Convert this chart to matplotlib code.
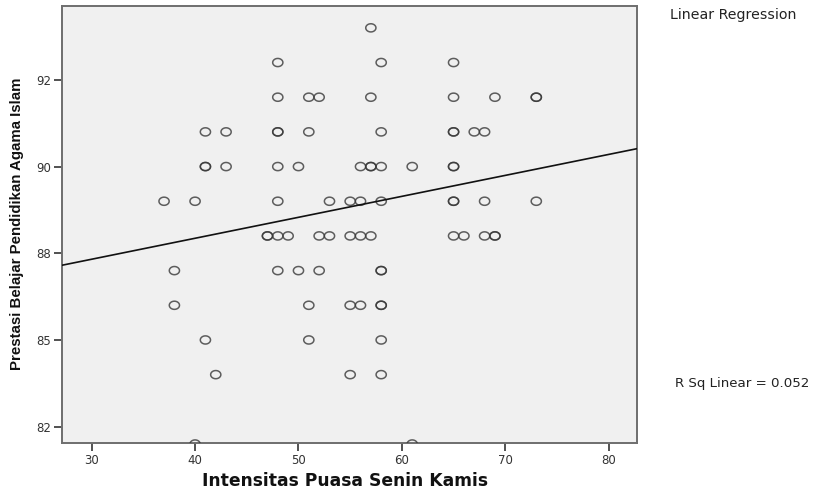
import numpy as np
import matplotlib
matplotlib.use("Agg")
import matplotlib.pyplot as plt
from matplotlib.path import Path

# ---- data ----
x_vals = [57,
          48, 58, 65,
          48, 51, 52, 57, 65, 69, 73, 73,
          41, 43, 48, 48, 51, 58, 65, 65, 67, 68,
          41, 41, 43, 48, 50, 56, 57, 57, 58, 61, 65, 65,
          37, 40, 48, 53, 55, 56, 58, 65, 65, 68, 73,
          47, 47, 48, 49, 52, 53, 55, 56, 57, 65, 66, 68, 69, 69,
          38, 48, 50, 52, 58, 58,
          38, 51, 55, 56, 58, 58,
          41, 51, 58,
          42, 55, 58,
          40, 61]
y_vals = ([94] * 1 + [93] * 3 + [92] * 8 + [91] * 10 + [90] * 12 + [89] * 11 +
          [88] * 14 + [87] * 6 + [86] * 6 + [85] * 3 + [84] * 3 + [82] * 2)

xtick_values = [30, 40, 50, 60, 70, 80]
xtick_labels = ["30", "40", "50", "60", "70", "80"]
ytick_values = [82.5, 85, 87.5, 90, 92.5]
ytick_labels = ["82", "85", "88", "90", "92"]

x_label = "Intensitas Puasa Senin Kamis"
y_label = "Prestasi Belajar Pendidikan Agama Islam"
legend_title = "Linear Regression"
r2_text = "R Sq Linear = 0.052"

x = np.array(x_vals, dtype=float)
y = np.array(y_vals, dtype=float)

# slightly flattened open-circle marker, as drawn by SPSS
t = np.linspace(0, 2 * np.pi, 41)
ellipse = Path(np.column_stack([np.cos(t), 0.8 * np.sin(t)]), closed=True)

fig = plt.figure(figsize=(8.22, 4.92), dpi=100)
ax = fig.add_axes([62 / 822, 1 - 443.3 / 492, (637 - 62) / 822, (443.3 - 6) / 492])
ax.set_facecolor("#F0F0F0")

xlim = (27.13, 82.74)
ylim = (82.02, 94.63)
ax.set_xlim(*xlim)
ax.set_ylim(*ylim)

ax.scatter(x, y, s=54, marker=ellipse, facecolors="none", edgecolors="#383838",
           linewidths=1.1, alpha=0.8, zorder=3, clip_on=True)

slope, intercept = np.polyfit(x, y, 1)
xx = np.array(xlim)
ax.plot(xx, intercept + slope * xx, color="#111111", linewidth=1.2, zorder=4)

for s in ax.spines.values():
    s.set_color("#6e6e6e")
    s.set_linewidth(1.4)

ax.set_xticks(xtick_values)
ax.set_xticklabels(xtick_labels)
ax.set_yticks(ytick_values)
ax.set_yticklabels(ytick_labels)
ax.tick_params(axis="both", direction="out", length=6, width=1.2, color="#333333",
               labelsize=8.5, labelcolor="#333333", pad=2,
               labelfontfamily="DejaVu Sans")

fig.text(345 / 822, 1 - 481 / 492, x_label, ha="center", va="center",
         fontsize=12.3, fontweight="bold", family=["DejaVu Sans"],
         color="#111111")
fig.text(17.5 / 822, 1 - 224 / 492, y_label, ha="center", va="center", rotation=90,
         fontsize=10.8, fontweight="bold",
         family=["Liberation Sans", "DejaVu Sans"],
         color="#111111")

fig.text(670 / 822, 1 - 15 / 492, legend_title, ha="left", va="center",
         fontsize=10.2, family=["DejaVu Sans"], color="#222222")
fig.text(675 / 822, 1 - 384 / 492, r2_text, ha="left", va="center",
         fontsize=9.6, family=["DejaVu Sans"], color="#222222")

fig.savefig("out.png", dpi=100)
